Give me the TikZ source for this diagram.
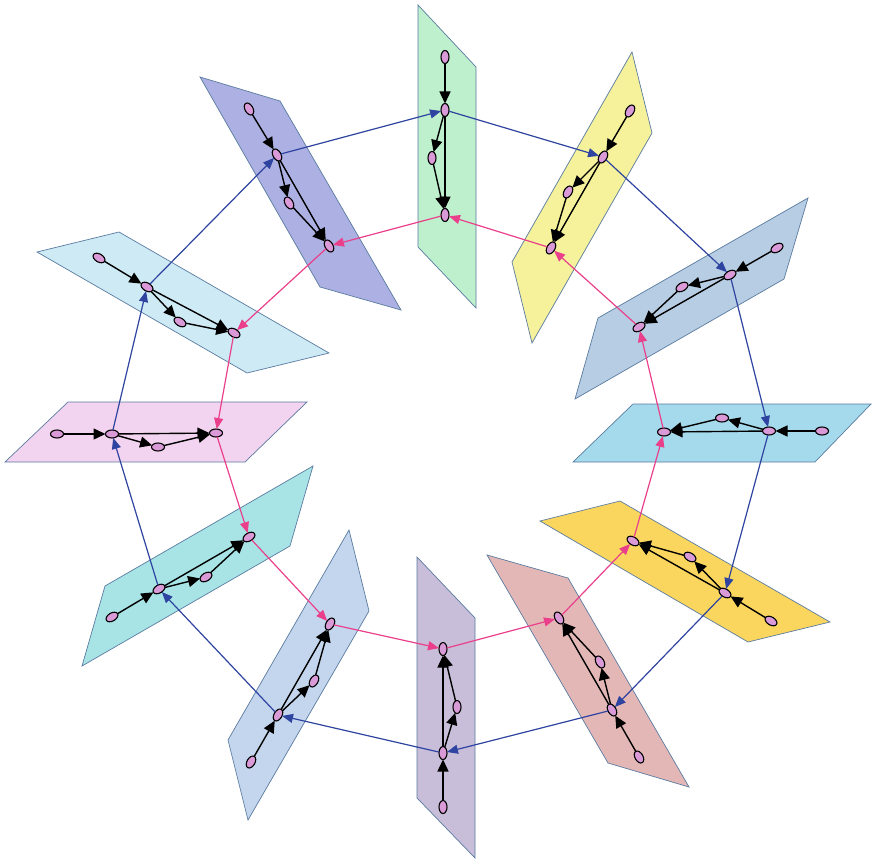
\documentclass[tikz,border=0pt]{standalone}
\usetikzlibrary{shapes.geometric,arrows.meta}
\definecolor{pA}{HTML}{BEF0CD}
\definecolor{pB}{HTML}{F5F29B}
\definecolor{pC}{HTML}{B7CDE3}
\definecolor{pD}{HTML}{A5DAEC}
\definecolor{pE}{HTML}{FAD65F}
\definecolor{pF}{HTML}{E4B7B7}
\definecolor{pG}{HTML}{C8BEDA}
\definecolor{pH}{HTML}{C4D6ED}
\definecolor{pI}{HTML}{A8E4E6}
\definecolor{pJ}{HTML}{F3D4F0}
\definecolor{pK}{HTML}{CDEAF5}
\definecolor{pL}{HTML}{ACB0E2}
\definecolor{bordc}{HTML}{5A7BA0}
\definecolor{nodef}{HTML}{DA9AD8}
\definecolor{bluec}{HTML}{2E44A0}
\definecolor{pinkc}{HTML}{EA408C}
\tikzset{
  plane/.style={draw=bordc, line width=0.7pt},
  vtx/.style={ellipse, draw=black, fill=nodef, line width=1.1pt, minimum width=13pt, minimum height=8pt, inner sep=0pt, outer sep=0pt},
  gedge/.style={line width=1.4pt, -{Triangle[length=12pt,width=11pt]}},
  blink/.style={draw=bluec, line width=1.2pt, -{Triangle[length=11pt,width=9pt]}},
  plink/.style={draw=pinkc, line width=1.2pt, -{Triangle[length=11pt,width=9pt]}}
}
\begin{document}
\begin{tikzpicture}[x=1pt,y=-1pt]
\useasboundingbox (0,0) rectangle (872,861);
% planes
\filldraw[plane, fill=pA] (418,5) -- (476,67) -- (476,308) -- (418,247) -- cycle;
\filldraw[plane, fill=pB] (632,52) -- (652,133) -- (532,343) -- (512,262) -- cycle;
\filldraw[plane, fill=pC] (808,198) -- (784,279) -- (575,399) -- (598,318) -- cycle;
\filldraw[plane, fill=pD] (633,404) -- (871,404) -- (815,462) -- (573,462) -- cycle;
\filldraw[plane, fill=pE] (540,521) -- (620,501) -- (830,622) -- (748,642) -- cycle;
\filldraw[plane, fill=pF] (487,555) -- (568,578) -- (689,787) -- (608,763) -- cycle;
\filldraw[plane, fill=pG] (417,557) -- (475,618) -- (475,858) -- (417,798) -- cycle;
\filldraw[plane, fill=pH] (349,530) -- (369,611) -- (248,820) -- (228,740) -- cycle;
\filldraw[plane, fill=pI] (313,466) -- (290,546) -- (82,666) -- (105,586) -- cycle;
\filldraw[plane, fill=pJ] (68,402) -- (307,402) -- (245,462) -- (5,462) -- cycle;
\filldraw[plane, fill=pK] (37,252) -- (119,232) -- (329,353) -- (247,373) -- cycle;
\filldraw[plane, fill=pL] (200,77) -- (280,101) -- (401,310) -- (320,287) -- cycle;
% nodes
\node[vtx, rotate=90] (a1) at (445,57) {};
\node[vtx, rotate=90] (a2) at (445,110) {};
\node[vtx, rotate=90] (a3) at (432,158) {};
\node[vtx, rotate=90] (a4) at (445,215) {};
\node[vtx, rotate=60] (b1) at (630,111) {};
\node[vtx, rotate=60] (b2) at (603,157) {};
\node[vtx, rotate=60] (b3) at (568,192) {};
\node[vtx, rotate=60] (b4) at (551,248) {};
\node[vtx, rotate=30] (c1) at (777,248) {};
\node[vtx, rotate=30] (c2) at (730,275) {};
\node[vtx, rotate=30] (c3) at (682,287) {};
\node[vtx, rotate=30] (c4) at (639,327) {};
\node[vtx] (d1) at (822,431) {};
\node[vtx] (d2) at (769,431) {};
\node[vtx] (d3) at (722,418) {};
\node[vtx] (d4) at (664,432) {};
\node[vtx, rotate=-31] (e1) at (771,621) {};
\node[vtx, rotate=-31] (e2) at (725,593) {};
\node[vtx, rotate=-31] (e3) at (690,557) {};
\node[vtx, rotate=-31] (e4) at (633,541) {};
\node[vtx, rotate=-60] (f1) at (639,757) {};
\node[vtx, rotate=-60] (f2) at (612,710) {};
\node[vtx, rotate=-60] (f3) at (600,662) {};
\node[vtx, rotate=-60] (f4) at (559,618) {};
\node[vtx, rotate=90] (g1) at (443,807) {};
\node[vtx, rotate=90] (g2) at (443,753) {};
\node[vtx, rotate=90] (g3) at (457,707) {};
\node[vtx, rotate=90] (g4) at (443,649) {};
\node[vtx, rotate=60] (h1) at (251,762) {};
\node[vtx, rotate=60] (h2) at (278,715) {};
\node[vtx, rotate=60] (h3) at (314,681) {};
\node[vtx, rotate=60] (h4) at (330,624) {};
\node[vtx, rotate=31] (i1) at (112,617) {};
\node[vtx, rotate=31] (i2) at (159,589) {};
\node[vtx, rotate=31] (i3) at (206,577) {};
\node[vtx, rotate=31] (i4) at (249,537) {};
\node[vtx] (j1) at (57,434) {};
\node[vtx] (j2) at (112,434) {};
\node[vtx] (j3) at (158,447) {};
\node[vtx] (j4) at (216,433) {};
\node[vtx, rotate=-31] (k1) at (99,258) {};
\node[vtx, rotate=-31] (k2) at (147,287) {};
\node[vtx, rotate=-31] (k3) at (180,322) {};
\node[vtx, rotate=-31] (k4) at (234,333) {};
\node[vtx, rotate=-60] (l1) at (249,109) {};
\node[vtx, rotate=-60] (l2) at (277,155) {};
\node[vtx, rotate=-60] (l3) at (289,203) {};
\node[vtx, rotate=-60] (l4) at (329,246) {};
% inner graphs
\foreach \p in {a,b,c,d,e,f,g,h,i,j,k,l}{
  \draw[gedge] (\p1) -- (\p2);
  \draw[gedge] (\p2) -- (\p3);
  \draw[gedge] (\p3) -- (\p4);
  \draw[gedge] (\p2) -- (\p4);
}
% blue ring (clockwise, outer nodes)
\draw[blink] (a2) -- (b2);
\draw[blink] (b2) -- (c2);
\draw[blink] (c2) -- (d2);
\draw[blink] (d2) -- (e2);
\draw[blink] (e2) -- (f2);
\draw[blink] (f2) -- (g2);
\draw[blink] (g2) -- (h2);
\draw[blink] (h2) -- (i2);
\draw[blink] (i2) -- (j2);
\draw[blink] (j2) -- (k2);
\draw[blink] (k2) -- (l2);
\draw[blink] (l2) -- (a2);
% pink ring (counter-clockwise, inner nodes)
\draw[plink] (c4) -- (b4);
\draw[plink] (b4) -- (a4);
\draw[plink] (a4) -- (l4);
\draw[plink] (l4) -- (k4);
\draw[plink] (k4) -- (j4);
\draw[plink] (j4) -- (i4);
\draw[plink] (i4) -- (h4);
\draw[plink] (h4) -- (g4);
\draw[plink] (g4) -- (f4);
\draw[plink] (f4) -- (e4);
\draw[plink] (e4) -- (d4);
\draw[plink] (d4) -- (c4);
\end{tikzpicture}
\end{document}
